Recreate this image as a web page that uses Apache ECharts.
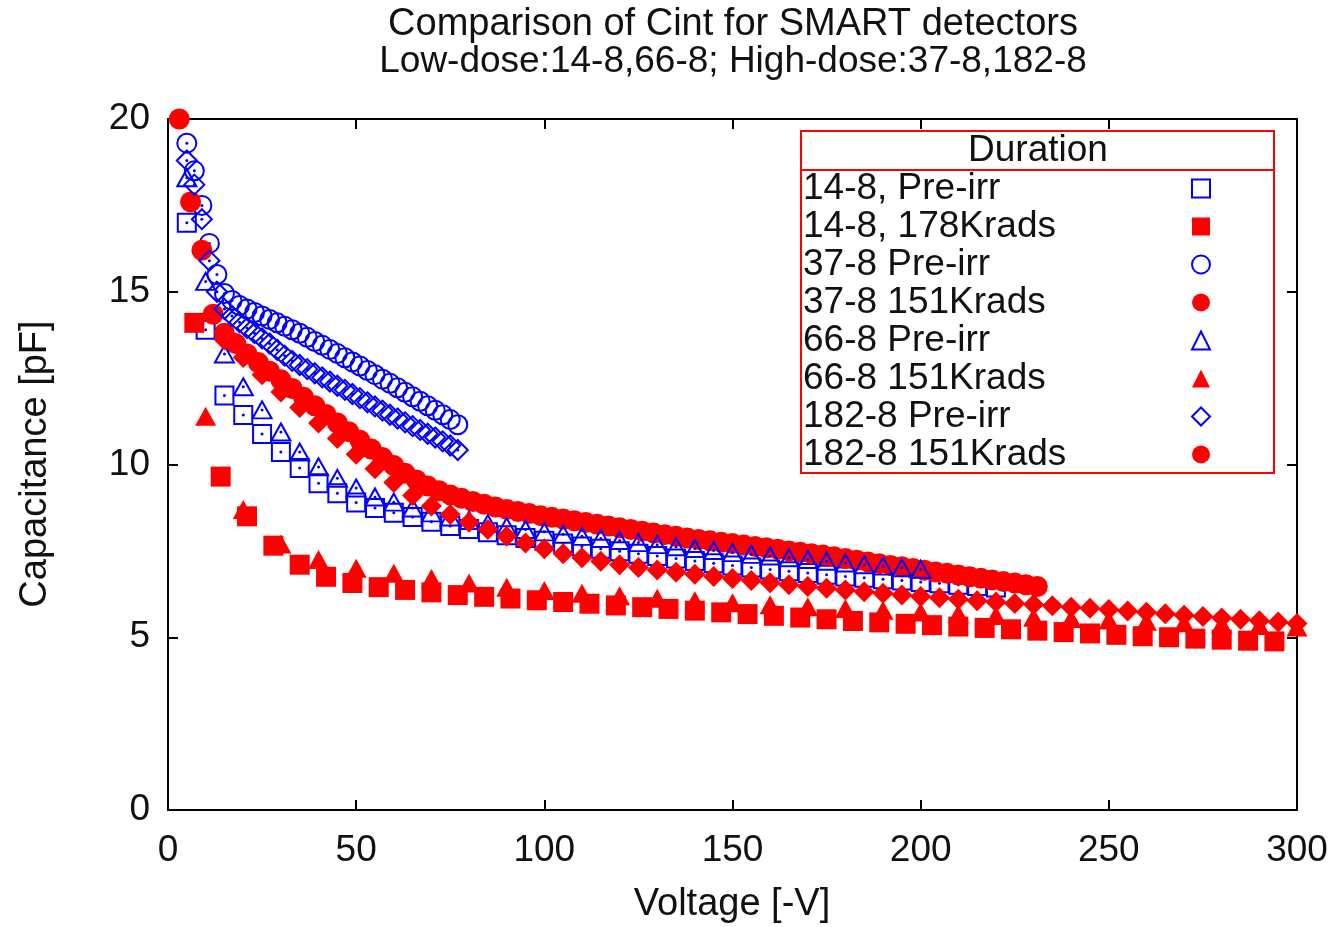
<!DOCTYPE html>
<html>
<head>
<meta charset="utf-8">
<title>Comparison of Cint for SMART detectors</title>
<script src="https://cdn.jsdelivr.net/npm/echarts@6/dist/echarts.min.js"></script>
<style>
  html, body { margin: 0; padding: 0; background: #fff; }
  #chart { width: 1337px; height: 927px; }
</style>
</head>
<body>
<div id="chart"></div>
<script>
// 14-8, Pre-irr
const v148Pre = [5, 10, 15, 20, 25, 30, 35, 40, 45, 50, 55, 60, 65, 70, 75, 80, 85, 90, 95, 100, 105, 110,
  115, 120, 125, 130, 135, 140, 145, 150, 155, 160, 165, 170, 175, 180, 185, 190, 195, 200, 205, 210, 215, 220]
const c148Pre = [17.0, 13.9, 12.0, 11.43, 10.88, 10.36, 9.9, 9.46, 9.17, 8.9, 8.74, 8.6, 8.48, 8.34, 8.22, 8.13,
  8.04, 7.95, 7.87, 7.79, 7.71, 7.63, 7.56, 7.49, 7.42, 7.35, 7.28, 7.21, 7.14, 7.08, 7.02, 6.96, 6.91, 6.86,
  6.81, 6.76, 6.72, 6.68, 6.64, 6.6, 6.56, 6.52, 6.48, 6.44]

// 14-8, 178Krads
const v148Irr = [7, 14, 21, 28, 35, 42, 49, 56, 63, 70, 77, 84, 91, 98, 105, 112, 119, 126, 133, 140, 147,
  154, 161, 168, 175, 182, 189, 196, 203, 210, 217, 224, 231, 238, 245, 252, 259, 266, 273, 280, 287, 294]
const c148Irr = [14.1, 9.65, 8.5, 7.65, 7.1, 6.75, 6.57, 6.45, 6.37, 6.3, 6.22, 6.17, 6.12, 6.07, 6.02, 5.97,
  5.92, 5.87, 5.82, 5.77, 5.72, 5.67, 5.62, 5.57, 5.52, 5.47, 5.43, 5.39, 5.35, 5.31, 5.27, 5.23, 5.19, 5.15,
  5.11, 5.07, 5.03, 5.0, 4.96, 4.93, 4.9, 4.88]

// 37-8 Pre-irr / 182-8 Pre-irr (same voltage steps)
const vHighPre = [5, 7, 9, 11, 13, 15, 17, 19, 21, 23, 25, 27, 29, 31, 33, 35, 37, 39, 41, 43, 45, 47, 49,
  51, 53, 55, 57, 59, 61, 63, 65, 67, 69, 71, 73, 75, 77]
const c378Pre = [19.3, 18.5, 17.5, 16.4, 15.5, 14.95, 14.75, 14.6, 14.5, 14.4, 14.3, 14.2, 14.1, 14.0, 13.9,
  13.8, 13.68, 13.56, 13.45, 13.33, 13.21, 13.09, 12.97, 12.85, 12.72, 12.6, 12.47, 12.35, 12.22, 12.09,
  11.96, 11.83, 11.7, 11.57, 11.44, 11.3, 11.15]
const c1828Pre = [18.8, 18.1, 17.1, 15.9, 15.0, 14.5, 14.3, 14.12, 13.95, 13.8, 13.65, 13.5, 13.32, 13.15,
  13.0, 12.88, 12.76, 12.64, 12.52, 12.4, 12.28, 12.16, 12.04, 11.92, 11.8, 11.68, 11.56, 11.44, 11.33,
  11.22, 11.11, 11.0, 10.89, 10.78, 10.67, 10.55, 10.42]

// 37-8 151Krads
const v378Irr = [3, 6, 9, 12, 15, 18, 21, 24, 27, 30, 33, 36, 39, 42, 45, 48, 51, 54, 57, 60, 63, 66, 69,
  72, 75, 78, 81, 84, 87, 90, 93, 96, 99, 102, 105, 108, 111, 114, 117, 120, 123, 126, 129, 132, 135, 138,
  141, 144, 147, 150, 153, 156, 159, 162, 165, 168, 171, 174, 177, 180, 183, 186, 189, 192, 195, 198, 201,
  204, 207, 210, 213, 216, 219, 222, 225, 228, 231]
const c378Irr = [20.0, 17.6, 16.2, 14.35, 13.8, 13.5, 13.2, 12.95, 12.7, 12.45, 12.2, 11.95, 11.7, 11.45,
  11.2, 10.95, 10.7, 10.45, 10.2, 9.97, 9.75, 9.55, 9.38, 9.24, 9.12, 9.02, 8.93, 8.85, 8.77, 8.7, 8.64,
  8.58, 8.52, 8.47, 8.42, 8.37, 8.32, 8.27, 8.22, 8.17, 8.12, 8.07, 8.02, 7.97, 7.92, 7.87, 7.83, 7.79,
  7.75, 7.71, 7.67, 7.63, 7.59, 7.55, 7.5, 7.46, 7.42, 7.38, 7.33, 7.28, 7.23, 7.18, 7.13, 7.08, 7.04,
  6.99, 6.94, 6.89, 6.85, 6.8, 6.75, 6.71, 6.66, 6.61, 6.57, 6.52, 6.47]

// 66-8 Pre-irr
const v668Pre = [5, 10, 15, 20, 25, 30, 35, 40, 45, 50, 55, 60, 65, 70, 75, 80, 85, 90, 95, 100, 105, 110,
  115, 120, 125, 130, 135, 140, 145, 150, 155, 160, 165, 170, 175, 180, 185, 190, 195, 200]
const c668Pre = [18.3, 15.3, 13.2, 12.25, 11.58, 10.94, 10.36, 9.93, 9.6, 9.32, 9.06, 8.91, 8.74, 8.6, 8.48,
  8.38, 8.29, 8.2, 8.12, 8.05, 7.98, 7.92, 7.86, 7.8, 7.74, 7.68, 7.62, 7.57, 7.51, 7.45, 7.4, 7.35, 7.3,
  7.25, 7.2, 7.15, 7.1, 7.06, 7.01, 6.97]

// 66-8 151Krads
const v668Irr = [10, 20, 30, 40, 50, 60, 70, 80, 90, 100, 110, 120, 130, 140, 150, 160, 170, 180, 190, 200,
  210, 220, 230, 240, 250, 260, 270, 280, 290, 300]
const c668Irr = [11.4, 8.7, 7.7, 7.25, 7.0, 6.85, 6.7, 6.57, 6.45, 6.35, 6.27, 6.2, 6.13, 6.06, 6.0, 5.94,
  5.88, 5.83, 5.78, 5.73, 5.68, 5.63, 5.58, 5.54, 5.5, 5.46, 5.42, 5.38, 5.34, 5.3]

// 182-8 151Krads
const v1828Irr = [15, 20, 25, 30, 35, 40, 45, 50, 55, 60, 65, 70, 75, 80, 85, 90, 95, 100, 105, 110, 115,
  120, 125, 130, 135, 140, 145, 150, 155, 160, 165, 170, 175, 180, 185, 190, 195, 200, 205, 210, 215, 220,
  225, 230, 235, 240, 245, 250, 255, 260, 265, 270, 275, 280, 285, 290, 295, 300]
const c1828Irr = [13.6, 13.1, 12.6, 12.1, 11.65, 11.2, 10.75, 10.3, 9.88, 9.48, 9.1, 8.8, 8.55, 8.33, 8.12,
  7.92, 7.73, 7.56, 7.42, 7.3, 7.2, 7.1, 7.02, 6.95, 6.88, 6.82, 6.76, 6.7, 6.64, 6.58, 6.52, 6.47, 6.42,
  6.37, 6.32, 6.27, 6.22, 6.18, 6.14, 6.1, 6.06, 6.02, 5.98, 5.95, 5.91, 5.87, 5.84, 5.8, 5.76, 5.72, 5.68,
  5.64, 5.6, 5.56, 5.52, 5.48, 5.44, 5.4]

const xTicks = { min: 0, max: 300, interval: 50 }
const yTicks = { min: 0, max: 20, interval: 5 }

const FONT = '"Liberation Sans", Arial, sans-serif'
const BLUE = '#0000ff'
const RED = '#ff0000'

const zip = (xs, ys) => xs.map((x, i) => [x, ys[i]])

const openStyle = { color: 'rgba(0,0,0,0)', borderColor: BLUE, borderWidth: 2, opacity: 1 }
const fillStyle = { color: RED, opacity: 1 }

// 开放符号 + 中心小点
function openSeries(name, symbol, size, xs, ys) {
  return [
    { name, type: 'scatter', symbol, symbolSize: size, itemStyle: openStyle, data: zip(xs, ys), silent: true },
    { name: name + ' dot', type: 'scatter', symbol: 'circle', symbolSize: 3, itemStyle: { color: BLUE, opacity: 1 },
      data: zip(xs, ys), silent: true }
  ]
}
function filledSeries(name, symbol, size, xs, ys) {
  return [{ name, type: 'scatter', symbol, symbolSize: size, itemStyle: fillStyle, data: zip(xs, ys), silent: true }]
}

const names = ['14-8, Pre-irr', '14-8, 178Krads', '37-8 Pre-irr', '37-8 151Krads',
  '66-8 Pre-irr', '66-8 151Krads', '182-8 Pre-irr', '182-8 151Krads']

const series = [
  ...openSeries(names[0], 'rect', 18, v148Pre, c148Pre),
  ...filledSeries(names[1], 'rect', 20, v148Irr, c148Irr),
  ...openSeries(names[2], 'circle', 19, vHighPre, c378Pre),
  ...filledSeries(names[3], 'circle', 21, v378Irr, c378Irr),
  ...openSeries(names[4], 'triangle', [19, 17], v668Pre, c668Pre),
  ...filledSeries(names[5], 'triangle', [21, 19], v668Irr, c668Irr),
  ...openSeries(names[6], 'diamond', 20, vHighPre, c1828Pre),
  ...filledSeries(names[7], 'diamond', 21, v1828Irr, c1828Irr)
]

const axisLine = { show: true, onZero: false, lineStyle: { color: '#000', width: 2 } }
const axisTick = { show: true, inside: true, length: 10, lineStyle: { color: '#000', width: 2 } }
const labelStyle = { fontSize: 37, color: '#111', fontFamily: FONT }

const chart = echarts.init(document.getElementById('chart'))
chart.setOption({
  animation: false,
  backgroundColor: '#fff',
  grid: { left: 168, right: 40, top: 119, bottom: 117 },
  xAxis: [
    { type: 'value', position: 'bottom', ...xTicks, axisLine, axisTick, splitLine: { show: false },
      axisLabel: { ...labelStyle, margin: 22 } },
    { type: 'value', position: 'top', ...xTicks, axisLine, axisTick, splitLine: { show: false },
      axisLabel: { show: false } }
  ],
  yAxis: [
    { type: 'value', position: 'left', ...yTicks, axisLine, axisTick, splitLine: { show: false },
      axisLabel: { ...labelStyle, margin: 18 } },
    { type: 'value', position: 'right', ...yTicks, axisLine, axisTick, splitLine: { show: false },
      axisLabel: { show: false } }
  ],
  legend: {
    orient: 'vertical',
    left: 803,
    top: 170,
    padding: 0,
    align: 'right',
    itemWidth: 18,
    itemHeight: 18,
    itemGap: 1,
    selectedMode: false,
    formatter: name => '{t|' + name + '}',
    textStyle: {
      color: '#111',
      fontFamily: FONT,
      fontSize: 37,
      rich: { t: { width: 384, height: 33, lineHeight: 33, align: 'left', fontSize: 37, fontFamily: FONT, color: '#111' } }
    },
    data: [
      { name: names[0], icon: 'rect', itemStyle: openStyle },
      { name: names[1], icon: 'rect', itemStyle: fillStyle },
      { name: names[2], icon: 'circle', itemStyle: openStyle },
      { name: names[3], icon: 'circle', itemStyle: fillStyle },
      { name: names[4], icon: 'triangle', itemStyle: openStyle },
      { name: names[5], icon: 'triangle', itemStyle: fillStyle },
      { name: names[6], icon: 'diamond', itemStyle: openStyle },
      { name: names[7], icon: 'circle', itemStyle: fillStyle }
    ]
  },
  graphic: [
    { type: 'text', x: 733, y: 25, style: { text: 'Comparison of Cint for SMART detectors', fontSize: 38,
      fontFamily: FONT, fill: '#111', textAlign: 'center', textVerticalAlign: 'middle' } },
    { type: 'text', x: 733, y: 62, style: { text: 'Low-dose:14-8,66-8; High-dose:37-8,182-8', fontSize: 37,
      fontFamily: FONT, fill: '#111', textAlign: 'center', textVerticalAlign: 'middle' } },
    { type: 'text', x: 732, y: 905, style: { text: 'Voltage [-V]', fontSize: 38,
      fontFamily: FONT, fill: '#111', textAlign: 'center', textVerticalAlign: 'middle' } },
    { type: 'text', x: 36, y: 464, rotation: Math.PI / 2, style: { text: 'Capacitance [pF]', fontSize: 38,
      fontFamily: FONT, fill: '#111', textAlign: 'center', textVerticalAlign: 'middle' } },
    // 图例边框与标题
    { type: 'rect', z: 5, shape: { x: 801, y: 131, width: 473, height: 342 },
      style: { fill: 'rgba(0,0,0,0)', stroke: RED, lineWidth: 2 } },
    { type: 'line', z: 5, shape: { x1: 801, y1: 170, x2: 1274, y2: 170 }, style: { stroke: RED, lineWidth: 2 } },
    { type: 'text', z: 5, x: 1038, y: 151, style: { text: 'Duration', fontSize: 37,
      fontFamily: FONT, fill: '#111', textAlign: 'center', textVerticalAlign: 'middle' } }
  ],
  series
})
</script>
</body>
</html>
